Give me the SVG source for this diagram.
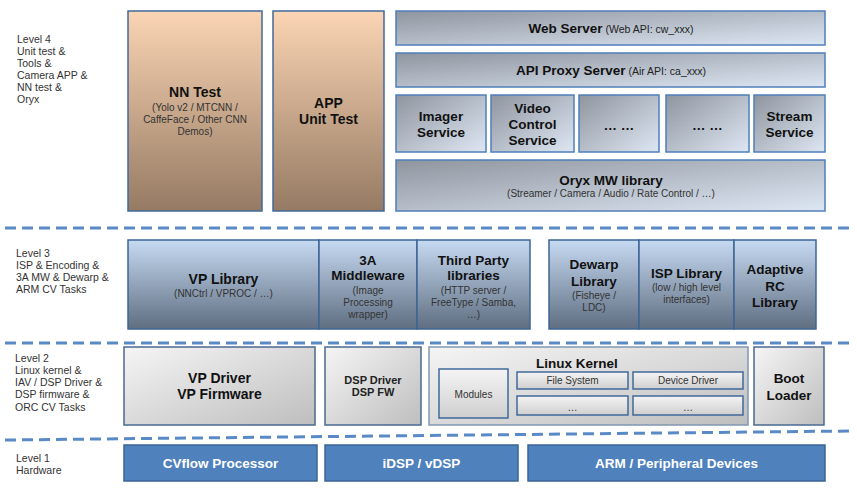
<svg xmlns="http://www.w3.org/2000/svg" width="857" height="491" viewBox="0 0 857 491">
<defs>
<linearGradient id="gPeach" x1="0" y1="0" x2="0" y2="1"><stop offset="0" stop-color="#FBD5B4"/><stop offset="1" stop-color="#957A63"/></linearGradient>
<linearGradient id="gSteel" x1="0" y1="0" x2="1" y2="1"><stop offset="0" stop-color="#8F959F"/><stop offset="1" stop-color="#DDE7F3"/></linearGradient>
<linearGradient id="gBlue" x1="0" y1="0" x2="0" y2="1"><stop offset="0" stop-color="#C6DAF2"/><stop offset="1" stop-color="#5F6E81"/></linearGradient>
<linearGradient id="gGray" x1="0" y1="0" x2="1" y2="1"><stop offset="0" stop-color="#F5F5F5"/><stop offset="1" stop-color="#BEBEBE"/></linearGradient>
<linearGradient id="gGray2" x1="0" y1="0" x2="0" y2="1"><stop offset="0" stop-color="#F4F4F4"/><stop offset="1" stop-color="#CFCFCF"/></linearGradient>
</defs>
<style>
text{font-family:"Liberation Sans",Arial,sans-serif;fill:#111;}
.lvl{font-size:10.5px;fill:#333;}
.t{font-weight:bold;font-size:13.5px;text-anchor:middle;}
.tl{font-weight:bold;font-size:14px;text-anchor:middle;}
.s{font-size:10px;text-anchor:middle;fill:#333;}
.sm{font-size:11px;text-anchor:middle;fill:#222;}
.hw{font-weight:bold;font-size:13.5px;text-anchor:middle;fill:#fff;}
.peach{fill:url(#gPeach);stroke:#41699A;stroke-width:1.5;}
.steel{fill:url(#gSteel);stroke:#4F7FBA;stroke-width:1.5;}
.blue{fill:url(#gBlue);stroke:#3E6594;stroke-width:1.5;}
.gray{fill:url(#gGray);stroke:#4A6890;stroke-width:1.5;}
.kern{fill:url(#gGray);stroke:#8196B2;stroke-width:1.5;}
.inner{fill:url(#gGray2);stroke:#41699A;stroke-width:1.5;}
.hwbox{fill:#4F81BD;stroke:#3B6496;stroke-width:1.5;}
.dash{stroke:#5A8AC6;stroke-width:3;stroke-dasharray:11 6;fill:none;}
</style>

<g id="level-labels">
<text class="lvl" x="17" y="43">Level 4</text>
<text class="lvl" x="17" y="55">Unit test &amp;</text>
<text class="lvl" x="17" y="67">Tools &amp;</text>
<text class="lvl" x="17" y="79">Camera APP &amp;</text>
<text class="lvl" x="17" y="91">NN test &amp;</text>
<text class="lvl" x="17" y="103">Oryx</text>
<text class="lvl" x="16" y="257">Level 3</text>
<text class="lvl" x="16" y="269">ISP &amp; Encoding &amp;</text>
<text class="lvl" x="16" y="281">3A MW &amp; Dewarp &amp;</text>
<text class="lvl" x="16" y="293">ARM CV Tasks</text>
<text class="lvl" x="15" y="362">Level 2</text>
<text class="lvl" x="15" y="374">Linux kernel &amp;</text>
<text class="lvl" x="15" y="386">IAV / DSP Driver &amp;</text>
<text class="lvl" x="15" y="398">DSP firmware &amp;</text>
<text class="lvl" x="15" y="411">ORC CV Tasks</text>
<text class="lvl" x="16" y="462">Level 1</text>
<text class="lvl" x="16" y="474">Hardware</text>
</g>

<g id="connectors">
<line class="dash" x1="5" y1="228" x2="850" y2="228"/>
<line class="dash" x1="5" y1="343" x2="850" y2="343"/>
<line class="dash" x1="5" y1="440" x2="850" y2="431"/>
</g>

<g id="nn-test">
<rect class="peach" x="128" y="11" width="134" height="200"/>
<text class="tl" x="195" y="97">NN Test</text>
<text class="s" x="195" y="111">(Yolo v2 / MTCNN /</text>
<text class="s" x="195" y="123">CaffeFace / Other CNN</text>
<text class="s" x="195" y="135">Demos)</text>
</g>
<g id="app-unit-test">
<rect class="peach" x="273" y="11" width="111" height="200"/>
<text class="tl" x="328.5" y="108">APP</text>
<text class="tl" x="328.5" y="124">Unit Test</text>
</g>
<g id="web-server">
<rect class="steel" x="396" y="11" width="429" height="34"/>
<text x="611" y="33" text-anchor="middle"><tspan font-weight="bold" font-size="13.5">Web Server</tspan><tspan font-size="10.5" fill="#222"> (Web API: cw_xxx)</tspan></text>
</g>
<g id="api-proxy">
<rect class="steel" x="396" y="53" width="429" height="34"/>
<text x="611" y="75" text-anchor="middle"><tspan font-weight="bold" font-size="13.5">API Proxy Server</tspan><tspan font-size="10.5" fill="#222"> (Air API: ca_xxx)</tspan></text>
</g>
<g id="imager-service">
<rect class="steel" x="396" y="95" width="90" height="57"/>
<text class="t" x="441" y="121">Imager</text>
<text class="t" x="441" y="137">Service</text>
</g>
<g id="video-control-service">
<rect class="steel" x="491" y="95" width="83" height="57"/>
<text class="t" x="532.5" y="113">Video</text>
<text class="t" x="532.5" y="129">Control</text>
<text class="t" x="532.5" y="145">Service</text>
</g>
<g id="service-more-1">
<rect class="steel" x="579" y="95" width="80" height="57"/>
<text class="t" x="619" y="130">… …</text>
</g>
<g id="service-more-2">
<rect class="steel" x="666" y="95" width="83" height="57"/>
<text class="t" x="707.5" y="130">… …</text>
</g>
<g id="stream-service">
<rect class="steel" x="754" y="95" width="71" height="57"/>
<text class="t" x="789.5" y="121">Stream</text>
<text class="t" x="789.5" y="137">Service</text>
</g>
<g id="oryx-mw">
<rect class="steel" x="396" y="160" width="429" height="51"/>
<text class="t" x="611" y="185">Oryx MW library</text>
<text class="s" x="611" y="197">(Streamer / Camera / Audio / Rate Control / …)</text>
</g>

<g id="vp-library">
<rect class="blue" x="128" y="240" width="191" height="89"/>
<text class="tl" x="223.5" y="284">VP Library</text>
<text class="s" x="223.5" y="297">(NNCtrl / VPROC / …)</text>
</g>
<g id="3a-middleware">
<rect class="blue" x="319" y="240" width="98" height="89"/>
<text class="t" x="368" y="265">3A</text>
<text class="t" x="368" y="280">Middleware</text>
<text class="s" x="368" y="294">(Image</text>
<text class="s" x="368" y="306">Processing</text>
<text class="s" x="368" y="318">wrapper)</text>
</g>
<g id="third-party">
<rect class="blue" x="417" y="240" width="113" height="89"/>
<text class="t" x="473.5" y="265">Third Party</text>
<text class="t" x="473.5" y="280">libraries</text>
<text class="s" x="473.5" y="294">(HTTP server /</text>
<text class="s" x="473.5" y="306">FreeType / Samba,</text>
<text class="s" x="473.5" y="318">…)</text>
</g>
<g id="dewarp-library">
<rect class="blue" x="549" y="240" width="90" height="89"/>
<text class="t" x="594" y="269">Dewarp</text>
<text class="t" x="594" y="286">Library</text>
<text class="s" x="594" y="299">(Fisheye /</text>
<text class="s" x="594" y="311">LDC)</text>
</g>
<g id="isp-library">
<rect class="blue" x="639" y="240" width="95" height="89"/>
<text class="t" x="686.5" y="278">ISP Library</text>
<text class="s" x="686.5" y="291">(low / high level</text>
<text class="s" x="686.5" y="303">interfaces)</text>
</g>
<g id="adaptive-rc">
<rect class="blue" x="734" y="240" width="82" height="89"/>
<text class="t" x="775" y="274">Adaptive</text>
<text class="t" x="775" y="291">RC</text>
<text class="t" x="775" y="307">Library</text>
</g>

<g id="vp-driver">
<rect class="gray" x="124" y="347" width="191" height="78"/>
<text class="tl" x="219.5" y="383">VP Driver</text>
<text class="tl" x="219.5" y="399">VP Firmware</text>
</g>
<g id="dsp-driver">
<rect class="gray" x="325" y="347" width="96" height="78"/>
<text class="sm" x="373" y="384" font-weight="bold" fill="#111">DSP Driver</text>
<text class="sm" x="373" y="396" font-weight="bold" fill="#111">DSP FW</text>
</g>
<g id="linux-kernel">
<rect class="kern" x="429" y="347" width="319" height="78"/>
<text class="t" x="577" y="368">Linux Kernel</text>
</g>
<g id="modules">
<rect class="inner" x="439" y="369" width="69" height="49"/>
<text class="s" x="473.5" y="398" fill="#222">Modules</text>
</g>
<g id="file-system">
<rect class="inner" x="517" y="372" width="111" height="17"/>
<text class="s" x="572.5" y="384" fill="#222">File System</text>
</g>
<g id="device-driver">
<rect class="inner" x="633" y="372" width="110" height="17"/>
<text class="s" x="688" y="384" fill="#222">Device Driver</text>
</g>
<g id="kernel-more-1">
<rect class="inner" x="517" y="396" width="111" height="19"/>
<text class="s" x="572.5" y="411" fill="#777" font-size="8">…</text>
</g>
<g id="kernel-more-2">
<rect class="inner" x="633" y="396" width="110" height="19"/>
<text class="s" x="688" y="411" fill="#777" font-size="8">…</text>
</g>
<g id="boot-loader">
<rect class="gray" x="754" y="347" width="70" height="78"/>
<text class="t" x="789" y="383">Boot</text>
<text class="t" x="789" y="400">Loader</text>
</g>

<g id="cvflow">
<rect class="hwbox" x="124" y="445" width="193" height="36"/>
<text class="hw" x="220.5" y="468">CVflow Processor</text>
</g>
<g id="idsp">
<rect class="hwbox" x="325" y="445" width="193" height="36"/>
<text class="hw" x="421.5" y="468">iDSP / vDSP</text>
</g>
<g id="arm">
<rect class="hwbox" x="528" y="445" width="297" height="36"/>
<text class="hw" x="676.5" y="468">ARM / Peripheral Devices</text>
</g>
</svg>
